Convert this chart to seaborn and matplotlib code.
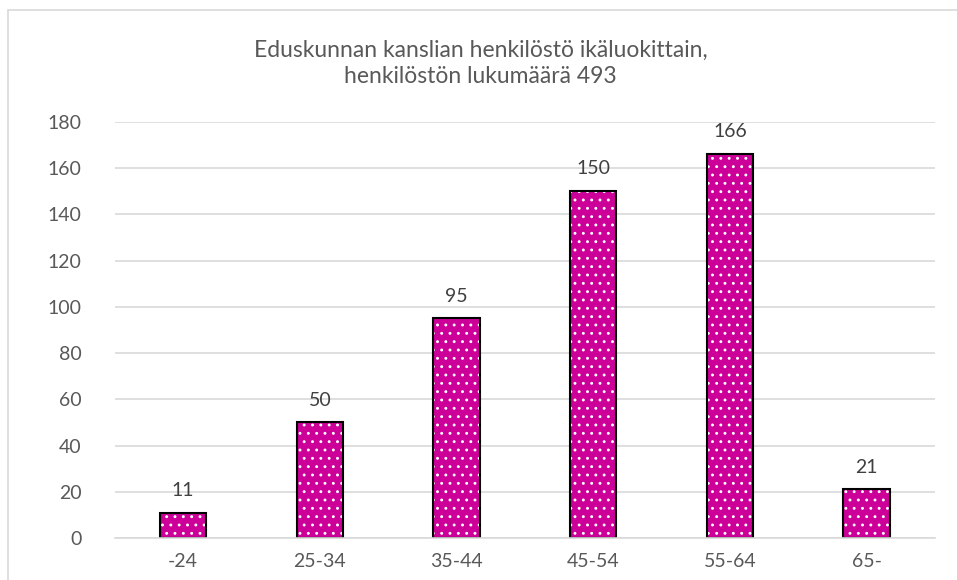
import matplotlib
matplotlib.use("Agg")
import matplotlib.pyplot as plt
import seaborn as sns
from matplotlib.patches import Rectangle

# age groups and headcounts
age_groups = ["-24", "25-34", "35-44", "45-54", "55-64", "65-"]
headcount = [11, 50, 95, 150, 166, 21]
y_ticks = [0, 20, 40, 60, 80, 100, 120, 140, 160, 180]
title = "Eduskunnan kanslian henkilöstö ikäluokittain,\nhenkilöstön lukumäärä 493"

sns.set_theme(style="white")
plt.rcParams['font.family'] = ['Lato', 'DejaVu Sans']
plt.rcParams['hatch.linewidth'] = 0.9

text_col = "#595959"
bar_col = "#CC0099"

fig = plt.figure(figsize=(9.57, 5.80), dpi=100)
ax = fig.add_axes([0.120, 0.0724, 0.857, 0.7173])

# fill with white dots
sns.barplot(x=age_groups, y=headcount, color=bar_col, width=0.34,
            saturation=1, ax=ax, linewidth=0, edgecolor="white")
for p in ax.patches:
    p.set_hatch("..")
    p.set_edgecolor("white")
    p.set_linewidth(0)

# black outline on top
sns.barplot(x=age_groups, y=headcount, fill=False, width=0.34,
            ax=ax, linewidth=1.5, edgecolor="black")

for i, v in enumerate(headcount):
    ax.text(i, v + 6, str(v), ha="center", va="bottom", fontsize=14, color="#404040")

ax.set_ylim(0, 180)
ax.set_yticks(y_ticks)
ax.set_xlim(-0.5, len(age_groups) - 0.5)
ax.yaxis.grid(True, color="#d9d9d9", linewidth=1.2)
ax.set_axisbelow(True)
for s in ["top", "right", "left"]:
    ax.spines[s].set_visible(False)
ax.spines["bottom"].set_color("#d9d9d9")
ax.spines["bottom"].set_linewidth(1.2)
ax.tick_params(axis="y", labelsize=14, colors=text_col, length=0, pad=24)
ax.tick_params(axis="x", labelsize=14, colors=text_col, length=0, pad=11)
ax.set_xlabel("")
ax.set_ylabel("")

fig.text(0.502, 1 - 63 / 580, title, ha="center", va="center", fontsize=16.5,
         color=text_col, linespacing=1.3)

# chart frame
fig.patches.append(Rectangle((8 / 957, -0.1), 1.1, 1.1 - 10 / 580,
                             transform=fig.transFigure, fill=False,
                             edgecolor="#d9d9d9", linewidth=1.2))

fig.savefig("out.png", dpi=100)
